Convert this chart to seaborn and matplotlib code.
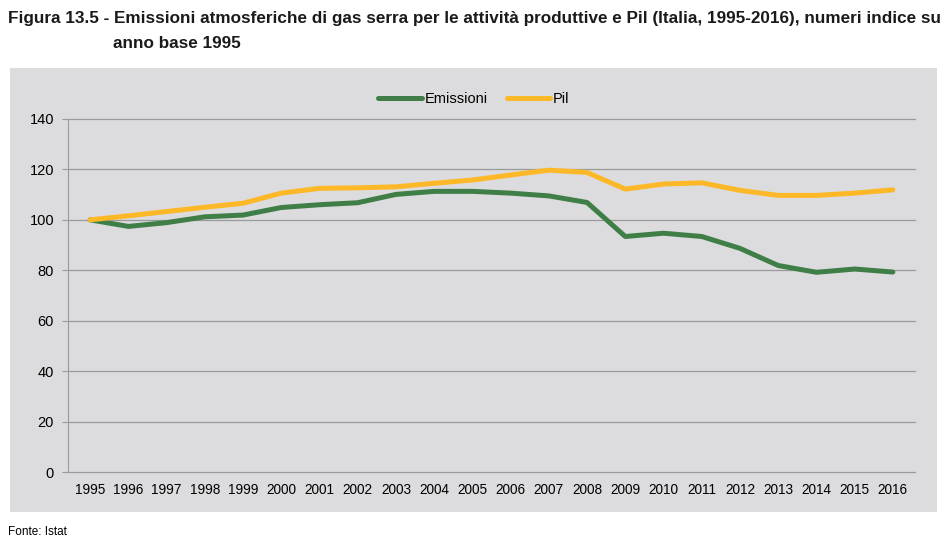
import seaborn as sns
import pandas as pd
import matplotlib.pyplot as plt
from matplotlib.patches import Rectangle

# Data
years = [str(y) for y in range(1995, 2017)]
emissioni = [100, 97.4, 98.9, 101.2, 101.9, 104.9, 106.0, 106.8, 110.1, 111.3, 111.3, 110.6,
             109.5, 106.9, 93.4, 94.7, 93.4, 88.7, 81.9, 79.2, 80.5, 79.3]
pil = [100, 101.6, 103.3, 105.0, 106.6, 110.6, 112.5, 112.7, 113.1, 114.5, 115.8, 117.8,
       119.7, 118.8, 112.2, 114.2, 114.7, 111.7, 109.7, 109.7, 110.6, 111.9]

data = pd.DataFrame({
    'Anno': years * 2,
    'Indice': emissioni + pil,
    'Serie': ['Emissioni'] * len(years) + ['Pil'] * len(years),
})

font = ['Liberation Sans', 'DejaVu Sans']

fig = plt.figure(figsize=(9.5, 5.42), dpi=100)
fig.patches.append(Rectangle((10 / 950, 1 - 512 / 542), 927 / 950, 444 / 542,
                             transform=fig.transFigure, facecolor='#dcdcde',
                             edgecolor='none', zorder=-1))

ax = fig.add_axes([68 / 950, 1 - 472 / 542, 847 / 950, 353 / 542])
ax.set_zorder(1)
ax.set_facecolor('none')
sns.lineplot(data=data, x='Anno', y='Indice', hue='Serie', ax=ax,
             palette=['#3f7f47', '#fdb827'], linewidth=3.6, sort=False,
             solid_capstyle='round', solid_joinstyle='round')

ax.set_ylim(0, 140)
ax.set_yticks(range(0, 141, 20))
ax.set_xlim(-0.58, 21.58)
ax.grid(axis='y', color='#9a9a9a', linewidth=0.9)
for gl in ax.get_ygridlines():
    gl.set_clip_on(False)
ax.set_axisbelow(True)
for s in ['top', 'right', 'bottom']:
    ax.spines[s].set_visible(False)
ax.spines['left'].set_color('#9a9a9a')
ax.tick_params(axis='y', length=4, color='#9a9a9a', labelsize=10.5, pad=6)
ax.tick_params(axis='x', length=0, labelsize=9.8, pad=8)
for lab in ax.get_yticklabels() + ax.get_xticklabels():
    lab.set_family(font)
ax.set_xlabel('')
ax.set_ylabel('')

leg = ax.legend(loc='center', bbox_to_anchor=(0.479, (472 - 99) / 353),
                ncol=2, frameon=False, handlelength=3.0, columnspacing=1.3,
                handletextpad=0.2, prop={'family': font, 'size': 10.5})
for h in leg.get_lines():
    h.set_solid_capstyle('round')

fig.text(8 / 950, 1 - 18 / 542, 'Figura 13.5 - Emissioni atmosferiche di gas serra per le attività produttive e Pil (Italia, 1995-2016), numeri indice su',
         fontsize=12.3, fontweight='bold', family=font, va='center', color='#1a1a1a')
fig.text(113 / 950, 1 - 44 / 542, 'anno base 1995',
         fontsize=12.3, fontweight='bold', family=font, va='center', color='#1a1a1a')
fig.text(8 / 950, 1 - 532 / 542, 'Fonte: Istat', fontsize=8.5, family=font, va='center')

fig.savefig('out.png', dpi=100)
